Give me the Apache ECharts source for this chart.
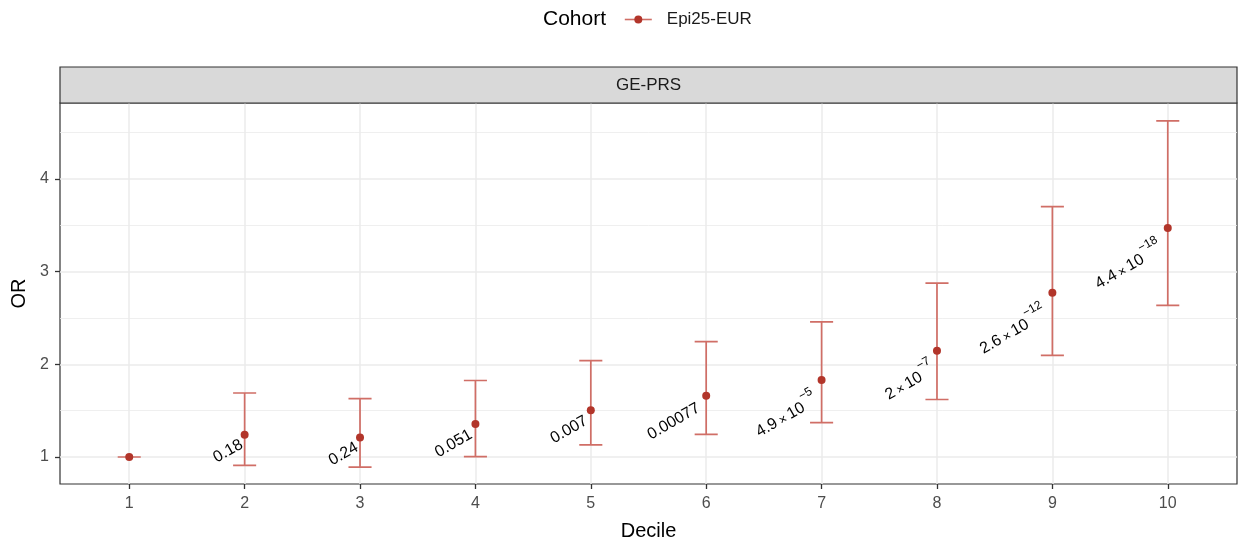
<!DOCTYPE html>
<html><head><meta charset="utf-8">
<script src="https://cdn.jsdelivr.net/npm/echarts@6/dist/echarts.min.js"></script>
<style>html,body{margin:0;padding:0;background:#fff}#c{width:1239px;height:546px}</style>
</head><body><div id="c"></div>
<script>
// ---- data ----
const deciles   = [1, 2, 3, 4, 5, 6, 7, 8, 9, 10];
const orValues  = [1.00, 1.24, 1.21, 1.355, 1.505, 1.66, 1.83, 2.145, 2.77, 3.47];
const ciLower   = [1.00, 0.91, 0.89, 1.005, 1.13, 1.245, 1.37, 1.62, 2.095, 2.635];
const ciUpper   = [1.00, 1.69, 1.63, 1.825, 2.04, 2.244, 2.457, 2.875, 3.70, 4.625];
const pMantissa = ['', '0.18', '0.24', '0.051', '0.007', '0.00077', '4.9', '2', '2.6', '4.4'];
const pExponent = [null, null, null, null, null, null, -5, -7, -12, -18];
const xTicks = [1, 2, 3, 4, 5, 6, 7, 8, 9, 10];
const yTicks = [1, 2, 3, 4];
const yMinor = [1.5, 2.5, 3.5, 4.5];
const facetLabel = 'GE-PRS';
const legendTitle = 'Cohort';
const seriesName = 'Epi25-EUR';

const FONT = '"Liberation Sans", Arial, sans-serif';
const POINT = '#B2352A';
const BAR = '#D06E66';
const GRID = '#EBEBEB';
const yMin = 0.709, yMax = 4.817, xMin = 0.4, xMax = 10.6;

const rich = {
  p: {fontSize: 16, lineHeight: 16, fontFamily: FONT, color: '#000'},
  m: {fontSize: 16, lineHeight: 24, fontFamily: FONT, color: '#000', verticalAlign: 'bottom'},
  x: {fontSize: 13, lineHeight: 24, fontFamily: FONT, color: '#000', verticalAlign: 'bottom', padding: [0, 3, 0, 3]},
  s: {fontSize: 12, lineHeight: 12, fontFamily: FONT, color: '#000', verticalAlign: 'top', padding: [0, 0, 0, 1]}
};
function labelText(i) {
  if (pExponent[i] === null) return '{p|' + pMantissa[i] + '}';
  return '{m|' + pMantissa[i] + '}{x|×}{m|10}{s|−' + Math.abs(pExponent[i]) + '}';
}
function measure(t) {
  try {
    const el = new echarts.graphic.Text({style: {text: t, rich: rich, fontSize: 16, fontFamily: FONT}});
    return el.getBoundingRect().width;
  } catch (e) { return t.length * 6; }
}

const pts = deciles.map((d, i) => [d, orValues[i]]);
const bars = deciles.map((d, i) => [d, ciLower[i], ciUpper[i]]);
const labs = [];
deciles.forEach((d, i) => { if (pMantissa[i]) labs.push([d, orValues[i], i]); });

const chart = echarts.init(document.getElementById('c'));
const gl = 60, gt = 103, gw = 1177, gh = 385;

chart.setOption({
  animation: false,
  textStyle: {fontFamily: FONT},
  grid: {left: gl, top: gt, width: gw, height: gh, show: true, borderColor: '#333333', borderWidth: 1.2},
  legend: {
    data: [seriesName], left: 624, top: 11, padding: 0, itemWidth: 27, itemHeight: 10,
    textStyle: {fontSize: 17, color: '#1A1A1A', fontFamily: FONT, padding: [0, 0, 0, 10]},
    lineStyle: {color: BAR, width: 1.6, opacity: 1}
  },
  graphic: [
    {type: 'text', left: 543, top: 9, style: {text: legendTitle, fontSize: 21, fontFamily: FONT, fill: '#000'}},
    {type: 'rect', shape: {x: gl, y: 67, width: gw, height: gt - 67}, style: {fill: '#D9D9D9', stroke: '#333333', lineWidth: 1.2}, z: 1},
    {type: 'text', x: gl + gw / 2, y: 85, style: {text: facetLabel, fontSize: 17, fontFamily: FONT, fill: '#1A1A1A', align: 'center', verticalAlign: 'middle'}, z: 2}
  ],
  xAxis: {
    type: 'value', min: xMin, max: xMax,
    name: 'Decile', nameLocation: 'middle', nameGap: 37,
    nameTextStyle: {fontSize: 20, color: '#000', fontFamily: FONT},
    axisLine: {show: false},
    axisTick: {show: true, customValues: xTicks, length: 5, lineStyle: {color: '#333333', width: 1.3}},
    axisLabel: {customValues: xTicks, fontSize: 16, color: '#4D4D4D', margin: 12, fontFamily: FONT},
    splitLine: {show: false}
  },
  yAxis: {
    type: 'value', min: yMin, max: yMax,
    name: 'OR', nameLocation: 'middle', nameGap: 23,
    nameTextStyle: {fontSize: 20, color: '#000', fontFamily: FONT},
    axisLine: {show: false},
    axisTick: {show: true, customValues: yTicks, length: 5, lineStyle: {color: '#333333', width: 1.3}},
    axisLabel: {customValues: yTicks, fontSize: 16, color: '#4D4D4D', margin: 11, fontFamily: FONT},
    splitLine: {show: false}
  },
  series: [
    {
      name: 'grid', type: 'line', data: pts, symbol: 'none', lineStyle: {opacity: 0}, z: 0, zlevel: 0, silent: true,
      markLine: {
        silent: true, z: 0, symbol: ['none', 'none'], label: {show: false}, animation: false,
        data: [].concat(
          yMinor.map(v => ({yAxis: v, lineStyle: {color: GRID, width: 0.8, type: 'solid'}})),
          yTicks.map(v => ({yAxis: v, lineStyle: {color: GRID, width: 1.5, type: 'solid'}})),
          xTicks.map(v => ({xAxis: v, lineStyle: {color: GRID, width: 1.5, type: 'solid'}}))
        )
      }
    },
    {
      name: 'ci', type: 'custom', data: bars, z: 6, silent: true,
      renderItem: function (params, api) {
        const x = api.value(0);
        const lo = api.coord([x, api.value(1)]);
        const hi = api.coord([x, api.value(2)]);
        const hw = api.size([0.1, 0])[0];
        return {
          type: 'polyline',
          shape: {points: [[hi[0] - hw, hi[1]], [hi[0] + hw, hi[1]], [hi[0], hi[1]], [lo[0], lo[1]], [lo[0] - hw, lo[1]], [lo[0] + hw, lo[1]]]},
          style: {stroke: BAR, lineWidth: 1.7, fill: null}
        };
      }
    },
    {
      name: seriesName, type: 'line', data: pts, symbol: 'circle', symbolSize: 8, showSymbol: true,
      itemStyle: {color: POINT}, lineStyle: {opacity: 0, color: BAR}, z: 7
    },
    {
      name: 'plabels', type: 'custom', data: labs, z: 8, silent: true,
      renderItem: function (params, api) {
        const i = api.value(2);
        const p = api.coord([api.value(0), api.value(1)]);
        const t = labelText(i);
        const w = measure(t);
        const d = 0.19 * w + 1, e = -2;
        const c = Math.cos(Math.PI / 6), s = Math.sin(Math.PI / 6);
        return {
          type: 'text',
          x: p[0] - d * c + e * s,
          y: p[1] + d * s + e * c,
          rotation: Math.PI / 6,
          style: {text: t, rich: rich, align: 'right', verticalAlign: 'top', fill: '#000', fontSize: 16, fontFamily: FONT}
        };
      }
    }
  ]
});
</script>
</body></html>
